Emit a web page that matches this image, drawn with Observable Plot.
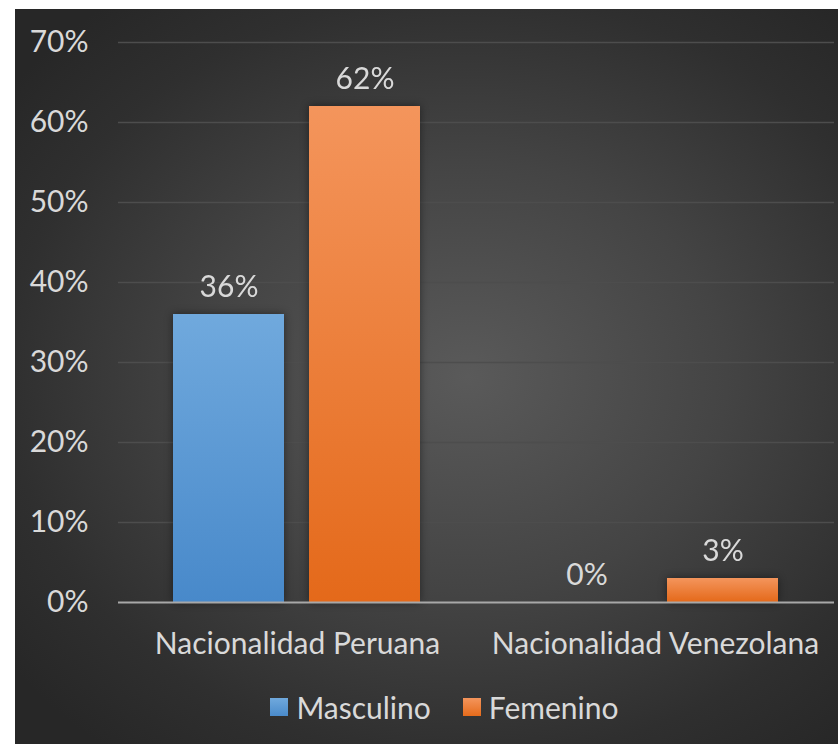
<!DOCTYPE html>
<html>
<head>
<meta charset="utf-8">
<script src="https://cdn.jsdelivr.net/npm/d3@7"></script>
<script src="https://cdn.jsdelivr.net/npm/@observablehq/plot@0.6"></script>
<style>
  html, body { margin: 0; padding: 0; background: #ffffff; }
  #frame {
    position: absolute; left: 15px; top: 9px; width: 823px; height: 735px;
    background: radial-gradient(ellipse 70% 65% at 55% 50%, #5a5a5a 0%, #444444 45%, #2f2f2f 80%, #272727 100%);
    overflow: hidden;
    font-family: Lato, "Open Sans", sans-serif;
  }
  #legend {
    position: absolute; left: 0; width: 823px; top: 680px;
    display: flex; justify-content: center; align-items: center; gap: 32px;
    padding-left: 36px; box-sizing: border-box;
    color: #d9d9d9; font-size: 30px;
  }
  #legend .item { display: flex; align-items: center; gap: 8px; }
  #legend .sw { width: 18px; height: 18px; display: inline-block; }
</style>
</head>
<body>
<div id="frame">
  <div id="chart"></div>
  <div id="legend"></div>
</div>
<script>
const categories = ["Nacionalidad Peruana", "Nacionalidad Venezolana"];
const seriesNames = ["Masculino", "Femenino"];
const masculino = [0.36, 0.00];
const femenino = [0.62, 0.03];
const yTicks = [0, 0.1, 0.2, 0.3, 0.4, 0.5, 0.6, 0.7];
const seriesFill = ["url(#gBlue)", "url(#gOrange)"];
const swatchCss = ["linear-gradient(#70a9dd, #4a8bcb)", "linear-gradient(#f4955c, #e56b1b)"];

const data = [];
categories.forEach((c, i) => {
  data.push({cat: c, series: seriesNames[0], value: masculino[i]});
  data.push({cat: c, series: seriesNames[1], value: femenino[i]});
});

const pct = d3.format(".0%");

const chart = Plot.plot({
  width: 823,
  height: 672,
  marginLeft: 102,
  marginRight: 4,
  marginTop: 33,
  marginBottom: 79,
  style: {background: "transparent", color: "#d9d9d9", fontFamily: "Lato, 'Open Sans', sans-serif", fontSize: "30px", overflow: "visible"},
  y: {domain: [0, 0.7], ticks: yTicks, tickFormat: pct, tickSize: 0, tickPadding: 30, label: null, axis: "left"},
  fx: {domain: categories, padding: 0, label: null, axis: "bottom", tickSize: 0, tickPadding: 30},
  x: {domain: seriesNames, paddingInner: 0.1825, paddingOuter: 0.40, axis: null},
  color: {domain: seriesNames, range: seriesFill},
  marks: [
    Plot.ruleY(yTicks.filter(d => d > 0), {stroke: "#4d4d4d", strokeWidth: 1.6}),
    Plot.barY(data, {fx: "cat", x: "series", y: "value", fill: "series"}),
    Plot.ruleY([0], {stroke: "#a8a8a8", strokeWidth: 2}),
    Plot.text(data, {fx: "cat", x: "series", y: "value", text: d => pct(d.value), lineAnchor: "middle", dy: -27, fill: "#d9d9d9", fontSize: 30})
  ]
});

const defs = d3.select(chart).insert("defs", ":first-child");
const g1 = defs.append("linearGradient").attr("id", "gBlue").attr("x1", 0).attr("y1", 0).attr("x2", 0).attr("y2", 1);
g1.append("stop").attr("offset", "0%").attr("stop-color", "#70a9dd");
g1.append("stop").attr("offset", "100%").attr("stop-color", "#4889ca");
const g2 = defs.append("linearGradient").attr("id", "gOrange").attr("x1", 0).attr("y1", 0).attr("x2", 0).attr("y2", 1);
g2.append("stop").attr("offset", "0%").attr("stop-color", "#f4955c");
g2.append("stop").attr("offset", "100%").attr("stop-color", "#e4691a");
d3.select(chart).selectAll('g[aria-label="bar"]').style("filter", "drop-shadow(0px 0px 4px rgba(0,0,0,0.45))");

document.getElementById("chart").appendChild(chart);

const legend = document.getElementById("legend");
seriesNames.forEach((s, i) => {
  const item = document.createElement("div");
  item.className = "item";
  const sw = document.createElement("span");
  sw.className = "sw";
  sw.style.background = swatchCss[i];
  const t = document.createElement("span");
  t.textContent = s;
  item.appendChild(sw); item.appendChild(t);
  legend.appendChild(item);
});
</script>
</body>
</html>
